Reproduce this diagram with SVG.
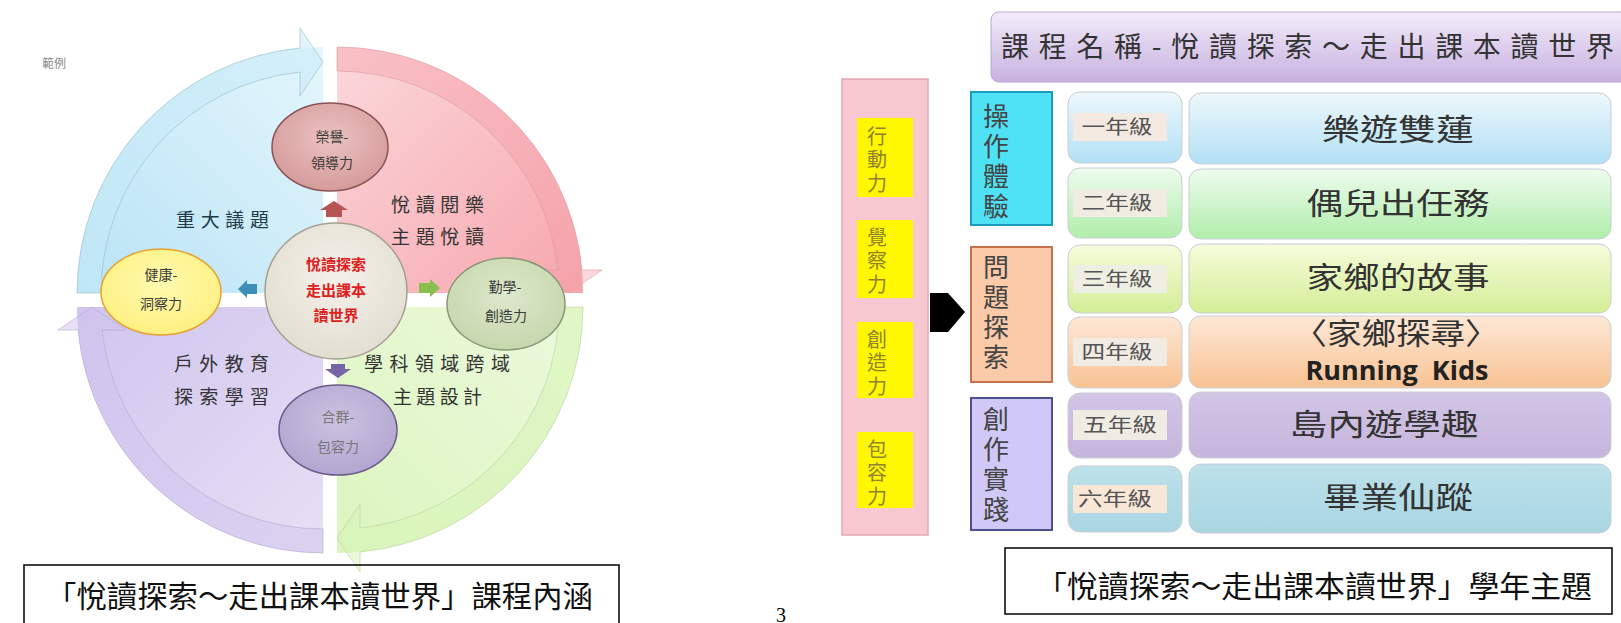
<svg xmlns="http://www.w3.org/2000/svg" width="1621" height="623" viewBox="0 0 1621 623">
<defs>
<style>
text{font-family:"Noto Sans CJK TC","Noto Sans CJK SC",sans-serif;}
.q{font-size:19px;fill:#333;}
.c{font-size:14px;fill:#3a3a3a;text-anchor:middle;}
.red{font-size:15px;fill:#e02020;font-weight:bold;text-anchor:middle;}
.cap{font-size:30px;fill:#111;}
.yel{font-size:20px;fill:#8f8232;writing-mode:vertical-rl;letter-spacing:3.5px;}
.cat{font-size:26px;fill:#444;writing-mode:vertical-rl;letter-spacing:4px;}
.gr{font-size:19px;fill:#555;text-anchor:middle;}
.th{font-size:30px;fill:#333;text-anchor:middle;}
.band{stroke-width:1;stroke-opacity:0.6;}
.gbox{stroke:#c9ced3;stroke-width:1;}
</style>
<linearGradient id="gBlue" x1="1" y1="0" x2="0" y2="1"><stop offset="0" stop-color="#e4f6fc"/><stop offset="1" stop-color="#b8e3f5"/></linearGradient>
<linearGradient id="gPink" x1="1" y1="0" x2="0" y2="1"><stop offset="0" stop-color="#f6a6ad"/><stop offset="1" stop-color="#fbd8db"/></linearGradient>
<linearGradient id="gGreen" x1="1" y1="0" x2="0" y2="1"><stop offset="0" stop-color="#dcf5bf"/><stop offset="1" stop-color="#ecf9dc"/></linearGradient>
<linearGradient id="gPurple" x1="1" y1="0" x2="0" y2="1"><stop offset="0" stop-color="#d0c4ee"/><stop offset="1" stop-color="#e6e0f4"/></linearGradient>
<radialGradient id="cRose" cx="0.5" cy="0.4" r="0.6"><stop offset="0" stop-color="#ecc2c2"/><stop offset="1" stop-color="#d59b9b"/></radialGradient>
<radialGradient id="cCore" cx="0.5" cy="0.4" r="0.6"><stop offset="0" stop-color="#f4f1ea"/><stop offset="1" stop-color="#e3ded2"/></radialGradient>
<radialGradient id="cYel" cx="0.5" cy="0.4" r="0.6"><stop offset="0" stop-color="#fffbb0"/><stop offset="1" stop-color="#fdef80"/></radialGradient>
<radialGradient id="cGrn" cx="0.5" cy="0.4" r="0.6"><stop offset="0" stop-color="#dde8cc"/><stop offset="1" stop-color="#c6d7ac"/></radialGradient>
<radialGradient id="cPur" cx="0.5" cy="0.4" r="0.6"><stop offset="0" stop-color="#cbc2e0"/><stop offset="1" stop-color="#b2a6d0"/></radialGradient>
<linearGradient id="tTitle" x1="0" y1="0" x2="0" y2="1"><stop offset="0" stop-color="#f3ecfa"/><stop offset="1" stop-color="#c7b1e0"/></linearGradient>
<linearGradient id="r1" x1="0" y1="0" x2="0" y2="1"><stop offset="0" stop-color="#eef8fc"/><stop offset="1" stop-color="#b2e0f4"/></linearGradient>
<linearGradient id="r2" x1="0" y1="0" x2="0" y2="1"><stop offset="0" stop-color="#eefbee"/><stop offset="1" stop-color="#b0eeaa"/></linearGradient>
<linearGradient id="r3" x1="0" y1="0" x2="0" y2="1"><stop offset="0" stop-color="#f6fcdc"/><stop offset="1" stop-color="#d4ee96"/></linearGradient>
<linearGradient id="r4" x1="0" y1="0" x2="0" y2="1"><stop offset="0" stop-color="#fde8d6"/><stop offset="1" stop-color="#f8c293"/></linearGradient>
<linearGradient id="r5" x1="0" y1="0" x2="0" y2="1"><stop offset="0" stop-color="#d2c5e6"/><stop offset="1" stop-color="#c6b5dc"/></linearGradient>
<linearGradient id="r6" x1="0" y1="0" x2="0" y2="1"><stop offset="0" stop-color="#bce1ea"/><stop offset="1" stop-color="#a9d6e2"/></linearGradient>
</defs>
<rect width="1621" height="623" fill="#ffffff"/>

<!-- LEFT DIAGRAM: cycle arrows -->
<g id="cycle">
  <g id="q-blue">
    <path d="M323,293 L77,293 A246,246 0 0 1 323,47 Z" fill="url(#gBlue)"/>
    <path class="band" d="M77,293 A246,246 0 0 1 300,48 L300,28 L323,62 L300,96 L300,72 A222,222 0 0 0 101,293 Z" fill="#c6eaf8" fill-opacity="0.5" stroke="#98bccb"/>
  </g>
  <g id="q-pink" transform="rotate(90 330 300)">
    <path d="M323,293 L77,293 A246,246 0 0 1 323,47 Z" fill="url(#gPink)"/>
    <path class="band" d="M77,293 A246,246 0 0 1 300,48 L300,28 L323,62 L300,96 L300,72 A222,222 0 0 0 101,293 Z" fill="#f59ea7" fill-opacity="0.4" stroke="#dc9aa2"/>
  </g>
  <g id="q-green" transform="rotate(180 330 300)">
    <path d="M323,293 L77,293 A246,246 0 0 1 323,47 Z" fill="url(#gGreen)"/>
    <path class="band" d="M77,293 A246,246 0 0 1 300,48 L300,28 L323,62 L300,96 L300,72 A222,222 0 0 0 101,293 Z" fill="#d6f4b4" fill-opacity="0.5" stroke="#b8d3a0"/>
  </g>
  <g id="q-purple" transform="rotate(270 330 300)">
    <path d="M323,293 L77,293 A246,246 0 0 1 323,47 Z" fill="url(#gPurple)"/>
    <path class="band" d="M77,293 A246,246 0 0 1 300,48 L300,28 L323,62 L300,96 L300,72 A222,222 0 0 0 101,293 Z" fill="#cfc3ee" fill-opacity="0.5" stroke="#b3a8cf"/>
  </g>
</g>

<text x="54" y="68" style="font-size:12px;fill:#8a8a8a" text-anchor="middle">範例</text>

<g id="quad-labels">
  <text class="q" x="176" y="227" textLength="93" lengthAdjust="spacing" style="fill:#1f3b4a">重大議題</text>
  <text class="q" x="391" y="212" textLength="93" lengthAdjust="spacing">悅讀閱樂</text>
  <text class="q" x="391" y="244" textLength="93" lengthAdjust="spacing">主題悅讀</text>
  <text class="q" x="174" y="371" textLength="95" lengthAdjust="spacing">戶外教育</text>
  <text class="q" x="174" y="404" textLength="95" lengthAdjust="spacing">探索學習</text>
  <text class="q" x="364" y="371" textLength="146" lengthAdjust="spacing">學科領域跨域</text>
  <text class="q" x="393" y="404" textLength="89" lengthAdjust="spacing">主題設計</text>
</g>

<g id="connectors">
  <polygon points="320,210 334,201 348,210 342,210 342,217 326,217 326,210" fill="#b75555"/>
  <polygon points="238,289 247,280 247,284 257,284 257,294 247,294 247,298" fill="#3d8fb6"/>
  <polygon points="440,288 430,279 430,283 419,283 419,293 430,293 430,297" fill="#88bf4e"/>
  <polygon points="325,369 331,369 331,364 345,364 345,369 351,369 338,378" fill="#7565a6"/>
  <polygon points="930,293 948,293 965,312 948,332 930,332" fill="#000"/>
</g>

<g id="n-rongyu">
  <ellipse cx="330" cy="147" rx="58" ry="44" fill="url(#cRose)" stroke="#8a5252" stroke-width="1.5"/>
  <text class="c" x="332" y="142">榮譽-</text>
  <text class="c" x="332" y="168">領導力</text>
</g>
<g id="n-core">
  <ellipse cx="336" cy="291" rx="71" ry="68" fill="url(#cCore)" stroke="#a69f90" stroke-width="1.5"/>
  <text class="red" x="336" y="270">悅讀探索</text>
  <text class="red" x="336" y="296">走出課本</text>
  <text class="red" x="336" y="321">讀世界</text>
</g>
<g id="n-health">
  <ellipse cx="161" cy="292" rx="60" ry="43" fill="url(#cYel)" stroke="#e6a132" stroke-width="1.5"/>
  <text class="c" x="161" y="280">健康-</text>
  <text class="c" x="161" y="309">洞察力</text>
</g>
<g id="n-diligent">
  <ellipse cx="506" cy="304" rx="59" ry="46" fill="url(#cGrn)" stroke="#879877" stroke-width="1.5"/>
  <text class="c" x="505" y="292">勤學-</text>
  <text class="c" x="506" y="321">創造力</text>
</g>
<g id="n-group">
  <ellipse cx="338" cy="430" rx="59" ry="45" fill="url(#cPur)" stroke="#6b5b8b" stroke-width="1.5"/>
  <text class="c" x="338" y="422" style="fill:#777">合群-</text>
  <text class="c" x="338" y="452" style="fill:#777">包容力</text>
</g>

<g id="caption-left">
  <rect x="24" y="565" width="595" height="70" fill="none" stroke="#000" stroke-width="1.5"/>
  <text class="cap" x="46" y="607" textLength="547" lengthAdjust="spacingAndGlyphs">「悅讀探索～走出課本讀世界」課程內涵</text>
</g>

<text x="781" y="622" style="font-family:'Liberation Serif',serif;font-size:20px;fill:#000" text-anchor="middle">3</text>

<!-- RIGHT DIAGRAM -->
<g id="n-title">
  <rect x="991" y="12" width="650" height="70" rx="8" fill="url(#tTitle)" stroke="#b7a8cc" stroke-width="1"/>
  <text x="1001" y="57" style="font-size:28px;fill:#333" textLength="613" lengthAdjust="spacing">課程名稱-悅讀探索～走出課本讀世界</text>
</g>

<g id="n-competence">
  <rect x="842" y="79" width="86" height="456" fill="#f7c8d0" stroke="#e3a8b2" stroke-width="1.5"/>
  <rect x="857" y="118" width="56" height="79" fill="#fff700"/>
  <text class="yel" x="877" y="126">行動力</text>
  <rect x="857" y="220" width="56" height="78" fill="#fff700"/>
  <text class="yel" x="877" y="227">覺察力</text>
  <rect x="857" y="322" width="56" height="76" fill="#fff700"/>
  <text class="yel" x="877" y="329">創造力</text>
  <rect x="857" y="432" width="56" height="76" fill="#fff700"/>
  <text class="yel" x="877" y="439">包容力</text>
</g>

<g id="n-cat1">
  <rect x="971" y="92" width="81" height="133" fill="#4fe2f4" stroke="#1a9cbf" stroke-width="2"/>
  <text class="cat" x="996" y="103">操作體驗</text>
</g>
<g id="n-cat2">
  <rect x="971" y="247" width="81" height="135" fill="#fbcaa8" stroke="#c4714c" stroke-width="2"/>
  <text class="cat" x="996" y="254">問題探索</text>
</g>
<g id="n-cat3">
  <rect x="971" y="398" width="81" height="132" fill="#d0c9f7" stroke="#4f4f8c" stroke-width="2"/>
  <text class="cat" x="996" y="406">創作實踐</text>
</g>

<g id="n-g1">
  <rect class="gbox" x="1068" y="92" width="114" height="71" rx="12" fill="url(#r1)"/>
  <rect x="1073" y="113" width="94" height="28" fill="#f3e9e1"/>
  <text class="gr" x="1117" y="134" textLength="71" lengthAdjust="spacingAndGlyphs">一年級</text>
</g>
<g id="n-g2">
  <rect class="gbox" x="1068" y="168" width="114" height="70" rx="12" fill="url(#r2)"/>
  <rect x="1073" y="189" width="94" height="28" fill="#f1ece2"/>
  <text class="gr" x="1117" y="210" textLength="71" lengthAdjust="spacingAndGlyphs">二年級</text>
</g>
<g id="n-g3">
  <rect class="gbox" x="1068" y="245" width="114" height="68" rx="12" fill="url(#r3)"/>
  <rect x="1073" y="265" width="94" height="28" fill="#eeeee2"/>
  <text class="gr" x="1117" y="286" textLength="71" lengthAdjust="spacingAndGlyphs">三年級</text>
</g>
<g id="n-g4">
  <rect class="gbox" x="1068" y="317" width="114" height="71" rx="12" fill="url(#r4)"/>
  <rect x="1073" y="338" width="94" height="28" fill="#f1ebe4"/>
  <text class="gr" x="1117" y="359" textLength="71" lengthAdjust="spacingAndGlyphs">四年級</text>
</g>
<g id="n-g5">
  <rect class="gbox" x="1068" y="393" width="114" height="65" rx="12" fill="url(#r5)"/>
  <rect x="1073" y="410" width="94" height="30" fill="#efece4"/>
  <text class="gr" x="1120" y="432" textLength="74" lengthAdjust="spacingAndGlyphs">五年級</text>
</g>
<g id="n-g6">
  <rect class="gbox" x="1068" y="466" width="114" height="66" rx="12" fill="url(#r6)"/>
  <rect x="1073" y="485" width="94" height="28" fill="#f8e6d6"/>
  <text class="gr" x="1115" y="506" textLength="74" lengthAdjust="spacingAndGlyphs">六年級</text>
</g>

<g id="n-t1">
  <rect class="gbox" x="1189" y="93" width="422" height="71" rx="12" fill="url(#r1)"/>
  <text class="th" x="1398" y="140" textLength="152" lengthAdjust="spacingAndGlyphs">樂遊雙蓮</text>
</g>
<g id="n-t2">
  <rect class="gbox" x="1189" y="169" width="422" height="70" rx="12" fill="url(#r2)"/>
  <text class="th" x="1398" y="214" textLength="183" lengthAdjust="spacingAndGlyphs">偶兒出任務</text>
</g>
<g id="n-t3">
  <rect class="gbox" x="1189" y="244" width="422" height="69" rx="12" fill="url(#r3)"/>
  <text class="th" x="1398" y="288" textLength="183" lengthAdjust="spacingAndGlyphs">家鄉的故事</text>
</g>
<g id="n-t4">
  <rect class="gbox" x="1189" y="316" width="422" height="72" rx="12" fill="url(#r4)"/>
  <text class="th" x="1396" y="344" textLength="207" lengthAdjust="spacingAndGlyphs">〈家鄉探尋〉</text>
  <text x="1397" y="380" style="font-family:'Open Sans','Noto Sans',sans-serif;font-size:27px;font-weight:bold;fill:#222;white-space:pre" text-anchor="middle">Running  Kids</text>
</g>
<g id="n-t5">
  <rect class="gbox" x="1189" y="392" width="422" height="66" rx="12" fill="url(#r5)"/>
  <text class="th" x="1384" y="435" textLength="189" lengthAdjust="spacingAndGlyphs">島內遊學趣</text>
</g>
<g id="n-t6">
  <rect class="gbox" x="1189" y="464" width="422" height="69" rx="12" fill="url(#r6)"/>
  <text class="th" x="1398" y="508" textLength="150" lengthAdjust="spacingAndGlyphs">畢業仙蹤</text>
</g>

<g id="caption-right">
  <rect x="1005" y="548" width="607" height="66" fill="#fff" stroke="#000" stroke-width="1.5"/>
  <text class="cap" x="1036" y="597" textLength="556" lengthAdjust="spacingAndGlyphs">「悅讀探索～走出課本讀世界」學年主題</text>
</g>
</svg>
